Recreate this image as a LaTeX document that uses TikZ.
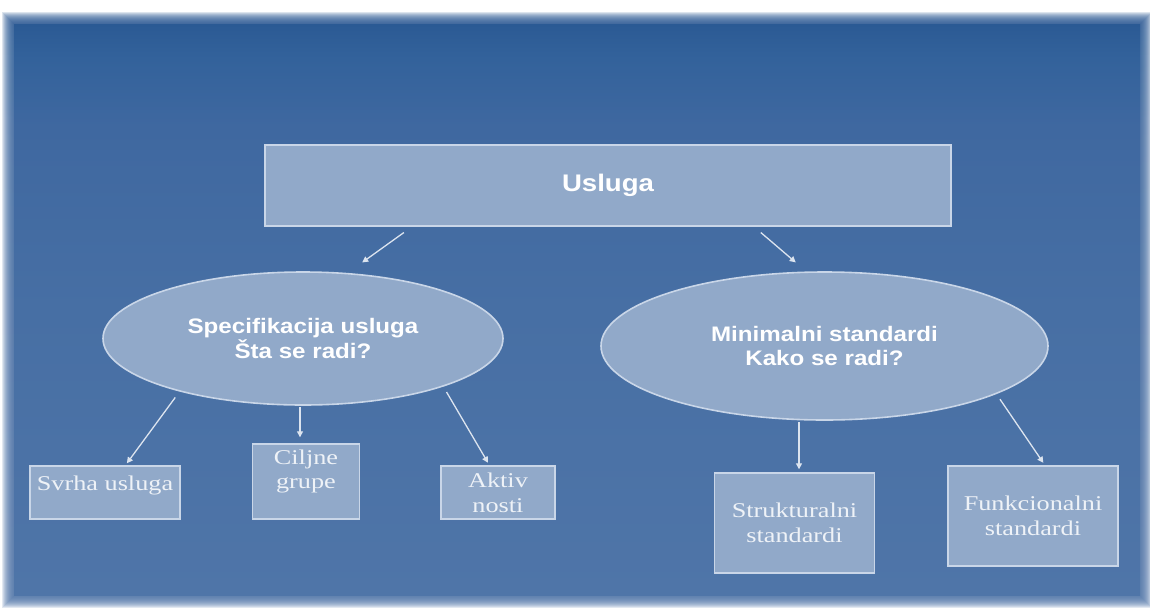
\documentclass[tikz,border=0pt]{standalone}
\usepackage{fontspec}
\newfontfamily\boxsans[FakeStretch=1.15]{Liberation Sans}
\newfontfamily\boxserif[FakeStretch=1.25]{Liberation Serif}
\usetikzlibrary{arrows.meta,calc,shapes.geometric}
\definecolor{ptop}{HTML}{2B5A94}
\definecolor{pup2}{HTML}{33629B}
\definecolor{pup}{HTML}{3F68A0}
\definecolor{pmid}{HTML}{476FA4}
\definecolor{pbot}{HTML}{4F75A8}
\definecolor{boxfill}{HTML}{91A9C9}
\definecolor{boxline}{HTML}{C9D6E8}
\definecolor{arrowcol}{HTML}{DCE4EF}
\definecolor{serifcol}{HTML}{EEF2F7}
\pgfdeclareverticalshading{panelshade}{100bp}{color(0bp)=(pbot); color(25bp)=(pbot); color(50bp)=(pmid); color(66bp)=(pup); color(72bp)=(pup2); color(75bp)=(ptop); color(100bp)=(ptop)}
\begin{document}
\begin{tikzpicture}[x=1pt,y=-1pt,
  topbox/.style={draw=boxline, line width=1.4pt, fill=boxfill, inner sep=0pt,
    font=\boxsans\bfseries\fontsize{24}{28}\selectfont, text=white},
  oval/.style={ellipse, draw=boxline, line width=1.6pt, fill=boxfill, inner sep=0pt,
    align=center, font=\boxsans\bfseries\fontsize{21}{24.5}\selectfont, text=white},
  sbox/.style={draw=boxline, line width=1.4pt, fill=boxfill, inner sep=0pt,
    align=center, font=\boxserif\fontsize{21}{25}\selectfont, text=serifcol},
  stext/.style={align=center, font=\boxserif\fontsize{21}{24}\selectfont, text=serifcol, inner sep=0pt},
  arr/.style={draw=arrowcol, line width=1.3pt, -{Triangle[length=6pt,width=6pt]}}]
\useasboundingbox (0,0) rectangle (1150,611);
\fill[white] (0,0) rectangle (1150,611);
% soft (blurred) panel edge
\foreach \i in {12,11,...,1}
  \shade[shading=panelshade, opacity=0.16] (14-\i,24-\i) rectangle (1140+\i,595+\i);
\shade[shading=panelshade] (14,24) rectangle (1140,595);

% nodes
\node[topbox, minimum width=686, minimum height=81] (usluga) at (608,185.5) {Usluga};
\node[oval, minimum width=400, minimum height=133] (spec) at (303,338.5)
  {Specifikacija usluga\\Šta se radi?};
\node[oval, minimum width=447, minimum height=148] (mini) at (824.5,346)
  {Minimalni standardi\\Kako se radi?};
\node[sbox, minimum width=150, minimum height=53,
  label={[stext, yshift=7pt]center:Svrha usluga}] (svrha) at (105,492.5) {};
\node[sbox, minimum width=107, minimum height=75,
  label={[stext, yshift=10pt]center:Ciljne\\grupe}] (ciljne) at (306,481.5) {};
\node[sbox, minimum width=114, minimum height=53] (aktiv) at (498,492.5) {Aktiv\\nosti};
\node[sbox, minimum width=160, minimum height=100] (strukt) at (794.5,523) {Strukturalni\\standardi};
\node[sbox, minimum width=170, minimum height=100] (funk) at (1033,516) {Funkcionalni\\standardi};

% connectors
\draw[arr, shorten <=10pt, shorten >=15pt] ($(usluga.south)+(-196,0)$) -- ($(spec.north)+(47,0)$);
\draw[arr, shorten <=9pt, shorten >=13.5pt] ($(usluga.south)+(146,0)$) -- ($(mini.north)+(-18.5,0)$);
\draw[arr, shorten <=8pt, shorten >=2.5pt] ($(spec.center)+(-123,52.5)$) -- ($(svrha.north)+(20.4,0)$);
\draw[arr, shorten <=1pt, shorten >=6pt] ($(spec.south)+(-3,0)$) -- ($(ciljne.north)+(-6,0)$);
\draw[arr, shorten <=7pt, shorten >=3pt] ($(spec.center)+(140,47.5)$) -- ($(aktiv.north)+(-8.5,0)$);
\draw[arr, shorten <=1pt, shorten >=3pt] ($(mini.south)+(-25.5,0)$) -- ($(strukt.north)+(4.5,0)$);
\draw[arr, shorten <=7pt, shorten >=3pt] ($(mini.center)+(171.5,47.4)$) -- ($(funk.north)+(12,0)$);
\end{tikzpicture}
\end{document}
